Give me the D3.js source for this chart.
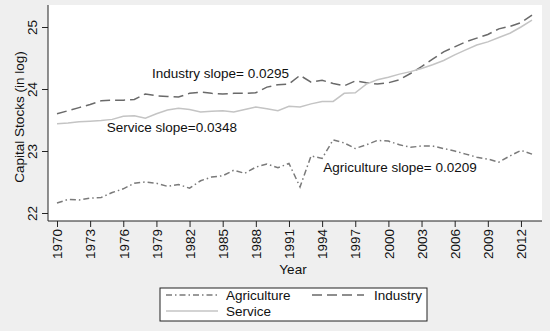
<!DOCTYPE html>
<html>
<head>
<meta charset="utf-8">
<script src="https://cdn.jsdelivr.net/npm/d3@7"></script>
<style>
  body { margin: 0; background: #ffffff; }
  text { font-family: "Liberation Sans", Arial, sans-serif; fill: #111; }
</style>
</head>
<body>
<div id="chart"></div>
<script>
// data (log capital stocks)
const years = d3.range(1970, 2014);
const tickYears = [1970, 1973, 1976, 1979, 1982, 1985, 1988, 1991, 1994, 1997, 2000, 2003, 2006, 2009, 2012];
const yTicks = [22, 23, 24, 25];

const agriculture = [22.16, 22.22, 22.21, 22.24, 22.25, 22.33, 22.39, 22.48, 22.50, 22.48,
  22.43, 22.46, 22.40, 22.52, 22.58, 22.60, 22.69, 22.64, 22.74, 22.79,
  22.73, 22.80, 22.42, 22.92, 22.88, 23.18, 23.13, 23.04, 23.10, 23.17,
  23.16, 23.10, 23.06, 23.08, 23.08, 23.04, 23.00, 22.95, 22.90, 22.87,
  22.82, 22.92, 23.01, 22.95];
const industry = [23.60, 23.65, 23.70, 23.75, 23.81, 23.82, 23.82, 23.83, 23.92, 23.89,
  23.88, 23.87, 23.93, 23.95, 23.93, 23.92, 23.93, 23.93, 23.94, 24.03,
  24.07, 24.08, 24.22, 24.11, 24.14, 24.09, 24.05, 24.13, 24.10, 24.08,
  24.10, 24.15, 24.25, 24.36, 24.48, 24.60, 24.68, 24.76, 24.82, 24.88,
  24.97, 25.01, 25.07, 25.19];
const service = [23.44, 23.45, 23.47, 23.48, 23.49, 23.51, 23.56, 23.57, 23.53, 23.60,
  23.66, 23.69, 23.67, 23.63, 23.64, 23.65, 23.63, 23.67, 23.71, 23.68,
  23.65, 23.72, 23.71, 23.76, 23.80, 23.80, 23.93, 23.94, 24.08, 24.15,
  24.19, 24.24, 24.28, 24.33, 24.39, 24.46, 24.55, 24.63, 24.71, 24.76,
  24.83, 24.90, 25.00, 25.11];

const width = 550, height = 331;
const fs = "13.5px";

const svg = d3.select("#chart").append("svg")
  .attr("width", width)
  .attr("height", height);

// grey figure background, white plot region
svg.append("rect").attr("width", width).attr("height", height).attr("fill", "#efefef");
svg.append("rect").attr("x", 48).attr("y", 5).attr("width", 494).attr("height", 216).attr("fill", "#fff");

const x = d3.scaleLinear().domain([1970, 2013]).range([57, 532]);
const y = d3.scaleLinear().domain([22, 25]).range([213, 27]);

// axes
const xAxis = svg.append("g")
  .attr("transform", "translate(0,221)")
  .call(d3.axisBottom(x).tickValues(tickYears).tickFormat(d3.format("d")).tickSize(6).tickSizeOuter(0));
xAxis.select(".domain").attr("d", "M48,0H542");
xAxis.selectAll("text")
  .attr("transform", "rotate(-90)")
  .attr("x", -8).attr("y", 0).attr("dy", "0.35em")
  .style("text-anchor", "end")
  .style("font-size", fs);

const yAxis = svg.append("g")
  .attr("transform", "translate(48,0)")
  .call(d3.axisLeft(y).tickValues(yTicks).tickFormat(d3.format("d")).tickSize(6).tickSizeOuter(0));
yAxis.select(".domain").attr("d", "M0,5V221");
yAxis.selectAll(".tick text")
  .attr("transform", "translate(-11,0) rotate(-90)")
  .attr("x", 0).attr("y", 0).attr("dy", 0)
  .style("text-anchor", "middle")
  .style("font-size", fs);
svg.selectAll(".domain, .tick line").attr("stroke", "#222");

// axis titles
svg.append("text")
  .attr("transform", "translate(24,117) rotate(-90)")
  .attr("text-anchor", "middle")
  .style("font-size", fs)
  .text("Capital Stocks (in log)");
svg.append("text")
  .attr("x", 293).attr("y", 274)
  .attr("text-anchor", "middle")
  .style("font-size", fs)
  .text("Year");

// series
const series = [
  { name: "Agriculture", values: agriculture, color: "#7a7a7a", dash: "6,3,1.5,3" },
  { name: "Industry", values: industry, color: "#6a6a6a", dash: "10,5" },
  { name: "Service", values: service, color: "#c4c4c4", dash: null }
];

const line = d3.line()
  .x((d, i) => x(years[i]))
  .y(d => y(d));

svg.append("g").selectAll("path")
  .data(series)
  .join("path")
    .attr("d", d => line(d.values))
    .attr("fill", "none")
    .attr("stroke", d => d.color)
    .attr("stroke-width", 1.5)
    .attr("stroke-dasharray", d => d.dash);

// slope notes
const notes = [
  { text: "Industry slope= 0.0295", year: 1978.6, v: 24.18 },
  { text: "Service slope=0.0348", year: 1974.5, v: 23.31 },
  { text: "Agriculture slope= 0.0209", year: 1994.1, v: 22.66 }
];
svg.append("g").selectAll("text")
  .data(notes)
  .join("text")
    .attr("x", d => x(d.year))
    .attr("y", d => y(d.v))
    .style("font-size", fs)
    .text(d => d.text);

// legend
const legend = svg.append("g");
legend.append("rect")
  .attr("x", 160).attr("y", 288).attr("width", 267).attr("height", 33)
  .attr("fill", "#fff").attr("stroke", "#222").attr("stroke-width", 1);

const legendPos = [
  { sx: 166, tx: 226, cy: 295 },
  { sx: 312, tx: 374, cy: 295 },
  { sx: 166, tx: 226, cy: 311 }
];
series.forEach((s, i) => {
  const p = legendPos[i];
  legend.append("line")
    .attr("x1", p.sx).attr("x2", p.sx + 52)
    .attr("y1", p.cy).attr("y2", p.cy)
    .attr("stroke", s.color).attr("stroke-width", 1.5)
    .attr("stroke-dasharray", s.dash);
  legend.append("text")
    .attr("x", p.tx).attr("y", p.cy).attr("dy", "0.35em")
    .style("font-size", fs)
    .text(s.name);
});
</script>
</body>
</html>
